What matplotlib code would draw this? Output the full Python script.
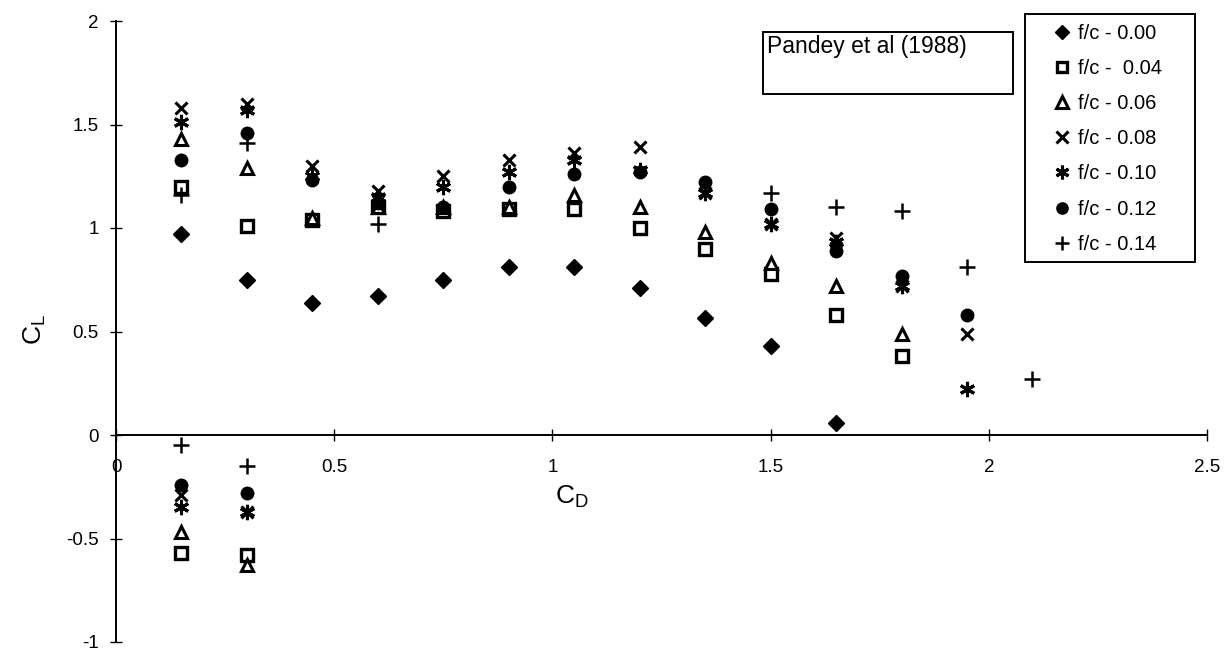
"""Pandey et al (1988): CL vs CD for cambered plates of different f/c."""

import matplotlib
matplotlib.use('Agg')
import matplotlib.pyplot as plt
from matplotlib.patches import Rectangle

plt.rcParams['font.family'] = ['Liberation Sans', 'DejaVu Sans']
plt.rcParams['axes.unicode_minus'] = False
plt.rcParams['mathtext.default'] = 'regular'

# ---- data ----
cd_00 = [0.15, 0.30, 0.45, 0.60, 0.75, 0.90, 1.05, 1.20, 1.35, 1.50, 1.65]
cl_00 = [0.97, 0.75, 0.64, 0.67, 0.75, 0.81, 0.81, 0.71, 0.565, 0.43, 0.06]

cd_04 = [0.15, 0.15, 0.30, 0.30, 0.45, 0.60, 0.75, 0.90, 1.05, 1.20, 1.35, 1.50, 1.65, 1.80]
cl_04 = [1.20, -0.57, 1.01, -0.58, 1.04, 1.10, 1.08, 1.09, 1.09, 1.00, 0.90, 0.78, 0.58, 0.38]

cd_06 = [0.15, 0.15, 0.30, 0.30, 0.45, 0.60, 0.75, 0.90, 1.05, 1.20, 1.35, 1.50, 1.65, 1.80]
cl_06 = [1.43, -0.47, 1.29, -0.63, 1.05, 1.10, 1.10, 1.10, 1.16, 1.10, 0.98, 0.83, 0.72, 0.49]

cd_08 = [0.15, 0.15, 0.30, 0.30, 0.45, 0.60, 0.75, 0.90, 1.05, 1.20, 1.35, 1.50, 1.65, 1.80, 1.95]
cl_08 = [1.58, -0.29, 1.60, -0.37, 1.30, 1.18, 1.25, 1.33, 1.36, 1.39, 1.17, 1.02, 0.95, 0.72, 0.49]

cd_10 = [0.15, 0.15, 0.30, 0.30, 0.45, 0.60, 0.75, 0.90, 1.05, 1.20, 1.35, 1.50, 1.65, 1.80, 1.95]
cl_10 = [1.51, -0.35, 1.57, -0.37, 1.25, 1.15, 1.20, 1.27, 1.33, 1.28, 1.17, 1.02, 0.93, 0.72, 0.22]

cd_12 = [0.15, 0.15, 0.30, 0.30, 0.45, 0.60, 0.75, 0.90, 1.05, 1.20, 1.35, 1.50, 1.65, 1.80, 1.95]
cl_12 = [1.33, -0.24, 1.46, -0.28, 1.23, 1.12, 1.10, 1.20, 1.26, 1.27, 1.22, 1.09, 0.89, 0.77, 0.58]

cd_14 = [0.15, 0.15, 0.30, 0.30, 0.60, 1.50, 1.65, 1.80, 1.95, 2.10]
cl_14 = [1.16, -0.05, 1.41, -0.15, 1.02, 1.17, 1.10, 1.08, 0.81, 0.27]

labels = ['f/c - 0.00', 'f/c -  0.04', 'f/c - 0.06', 'f/c - 0.08',
          'f/c - 0.10', 'f/c - 0.12', 'f/c - 0.14']

W, H = 1231, 655
fig = plt.figure(figsize=(W / 100, H / 100), dpi=100)
# axes box: x 0..2.5 -> px 116..1207, y -1..2 -> px 642..21
ax = fig.add_axes([116 / W, 1 - 642 / H, (1207 - 116) / W, (642 - 21) / H])

k = dict(linestyle='none', color='black', markeredgecolor='black')
ax.plot(cd_00, cl_00, marker='D', markersize=8, label=labels[0], **k)
ax.plot(cd_04, cl_04, marker='s', markersize=8, markerfacecolor='white',
        markeredgewidth=2.4, label=labels[1], **k)
ax.plot(cd_06, cl_06, marker='^', markersize=9, markerfacecolor='white',
        markeredgewidth=2.2, label=labels[2], **k)
ax.plot(cd_08, cl_08, marker='x', markersize=9, markeredgewidth=2.2,
        label=labels[3], **k)
ax.plot(cd_10, cl_10, marker=(6, 2, 0), markersize=11, markeredgewidth=2.2,
        label=labels[4], **k)
ax.plot(cd_12, cl_12, marker='o', markersize=9, label=labels[5], **k)
ax.plot(cd_14, cl_14, marker='+', markersize=11, markeredgewidth=1.8,
        label=labels[6], **k)

ax.set_xlim(0, 2.5)
ax.set_ylim(-1, 2)
ax.set_xticks([0, 0.5, 1, 1.5, 2, 2.5])
ax.set_xticklabels(['0', '0.5', '1', '1.5', '2', '2.5'])
ax.set_yticks([-1, -0.5, 0, 0.5, 1, 1.5, 2])
ax.set_yticklabels(['-1', '-0.5', '0', '0.5', '1', '1.5', '2'])

ax.spines['top'].set_visible(False)
ax.spines['right'].set_visible(False)
ax.spines['bottom'].set_position(('data', 0))
for s in ('left', 'bottom'):
    ax.spines[s].set_linewidth(1.4)
ax.tick_params(axis='both', direction='inout', length=9, width=1.0,
               labelsize=13.5)
ax.tick_params(axis='x', pad=13)
ax.tick_params(axis='y', pad=8)

fig.text(572 / W, 1 - 497 / H, 'C$_D$', fontsize=19, ha='center', va='center')
fig.text(35 / W, 1 - 330 / H, 'C$_L$', fontsize=19, ha='center', va='center',
         rotation=90)

# legend: entries without frame, frame drawn as a separate box
leg = ax.legend(loc='upper left', bbox_to_anchor=(1052 / W, 1 - 24 / H),
                bbox_transform=fig.transFigure, frameon=False,
                fontsize=14.5, labelspacing=0.8, handlelength=1.0,
                handletextpad=0.3, borderpad=0, borderaxespad=0,
                markerscale=0.9)
fig.patches.append(Rectangle((1025 / W, 1 - 262 / H), 170 / W, 248 / H,
                             transform=fig.transFigure, fill=False,
                             edgecolor='black', linewidth=1.4))

# reference box
fig.patches.append(Rectangle((763 / W, 1 - 94 / H), 250 / W, 62 / H,
                             transform=fig.transFigure, fill=False,
                             edgecolor='black', linewidth=1.4))
fig.text(767 / W, 1 - 47 / H, 'Pandey et al (1988)', fontsize=16.5,
         ha='left', va='center')

fig.savefig('out.png', dpi=100)
